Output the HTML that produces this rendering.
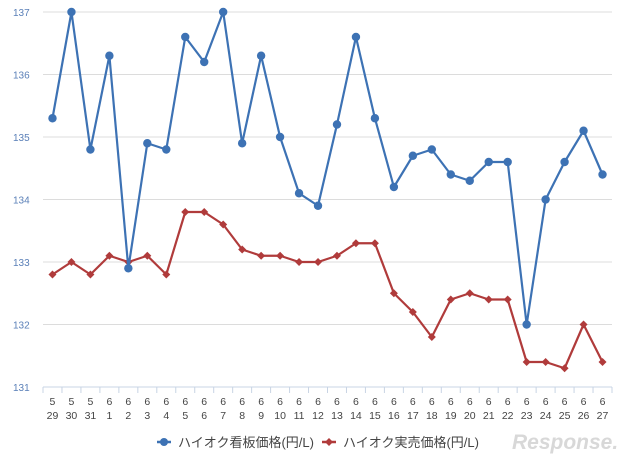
<!DOCTYPE html>
<html><head><meta charset="utf-8"><style>
body{margin:0;background:#fff;}
svg{display:block;font-family:"Liberation Sans","Noto Sans CJK JP",sans-serif;}
</style></head><body>
<svg id="chart" width="640" height="462">
<g id="grid"></g>
<g id="yaxis"></g>
<g id="xaxis"></g>
<g id="series"></g>
<g>
<g>
<line x1="157" y1="442" x2="171" y2="442" stroke="#3d72b4" stroke-width="2.5"/><circle cx="164" cy="442" r="4" fill="#3d72b4"/>
<text x="178" y="447" font-size="13" fill="#444">ハイオク看板価格(円/L)</text></g>
<g>
<line x1="322" y1="442" x2="336" y2="442" stroke="#b03b3b" stroke-width="2.5"/><path d="M329,438 L333,442 L329,446 L325,442Z" fill="#b03b3b"/>
<text x="343" y="447" font-size="13" fill="#444">ハイオク実売価格(円/L)</text></g>
</g>
<text x="512" y="449" font-size="21" font-weight="bold" font-style="italic" fill="#d8d8d8">Response.</text>
</svg>
<script>
const months=[5,5,5,6,6,6,6,6,6,6,6,6,6,6,6,6,6,6,6,6,6,6,6,6,6,6,6,6,6,6];
const days=[29,30,31,1,2,3,4,5,6,7,8,9,10,11,12,13,14,15,16,17,18,19,20,21,22,23,24,25,26,27];
const signboard=[135.3,137,134.8,136.3,132.9,134.9,134.8,136.6,136.2,137,134.9,136.3,135.0,134.1,133.9,135.2,136.6,135.3,134.2,134.7,134.8,134.4,134.3,134.6,134.6,132.0,134.0,134.6,135.1,134.4];
const actual=[132.8,133,132.8,133.1,133,133.1,132.8,133.8,133.8,133.6,133.2,133.1,133.1,133,133,133.1,133.3,133.3,132.5,132.2,131.8,132.4,132.5,132.4,132.4,131.4,131.4,131.3,132,131.4];
const yTicks=[131,132,133,134,135,136,137];
const NS="http://www.w3.org/2000/svg";
const X0=43,X1=612,Y0=387,Y1=12,ymin=131,ymax=137;
const bw=(X1-X0)/days.length;
function xs(i){return X0+bw*(i+0.5);}
function ys(v){return Y0-(v-ymin)/(ymax-ymin)*(Y0-Y1);}
function mk(tag,attrs,parent){const e=document.createElementNS(NS,tag);for(const k in attrs)e.setAttribute(k,attrs[k]);parent.appendChild(e);return e;}
const grid=document.getElementById('grid'),ya=document.getElementById('yaxis'),xa=document.getElementById('xaxis'),se=document.getElementById('series');
yTicks.forEach(t=>{
 if(t>ymin){const l=mk('line',{x1:X0,x2:X1,y1:ys(t),y2:ys(t),stroke:'#dcdcdc','stroke-width':1},grid);
 
 }
 const tx=mk('text',{x:13,y:ys(t)+4,'font-size':10,fill:'#5b80b8'},ya);tx.textContent=t;
 
 
});
mk('line',{x1:X0,x2:X1,y1:Y0,y2:Y0,stroke:'#c8d4e4','stroke-width':1},xa);
for(let i=0;i<=days.length;i++){mk('line',{x1:X0+bw*i,x2:X0+bw*i,y1:Y0,y2:Y0+6,stroke:'#c8d4e4'},xa);}
days.forEach((d,i)=>{
 const a=mk('text',{x:xs(i),y:405,'font-size':10.5,fill:'#444','text-anchor':'middle'},xa);a.textContent=months[i];
 
 
 const b=mk('text',{x:xs(i),y:419,'font-size':10.5,fill:'#444','text-anchor':'middle'},xa);b.textContent=d;
 
 
});
function draw(vals,color,shape,name){
 const p=mk('polyline',{points:vals.map((v,i)=>xs(i)+','+ys(v)).join(' '),fill:'none',stroke:color,'stroke-width':2.2,'stroke-linejoin':'round'},se);
 
 
 vals.forEach((v,i)=>{const x=xs(i),y=ys(v);let m;
  if(shape==='c')m=mk('circle',{cx:x,cy:y,r:4.2,fill:color},se);
  else m=mk('path',{d:`M${x},${y-4}L${x+4},${y}L${x},${y+4}L${x-4},${y}Z`,fill:color},se);
  
  
 });
}
draw(actual,'#b03b3b','d','actual-price');
draw(signboard,'#3d72b4','c','signboard-price');
</script>
</body></html>
